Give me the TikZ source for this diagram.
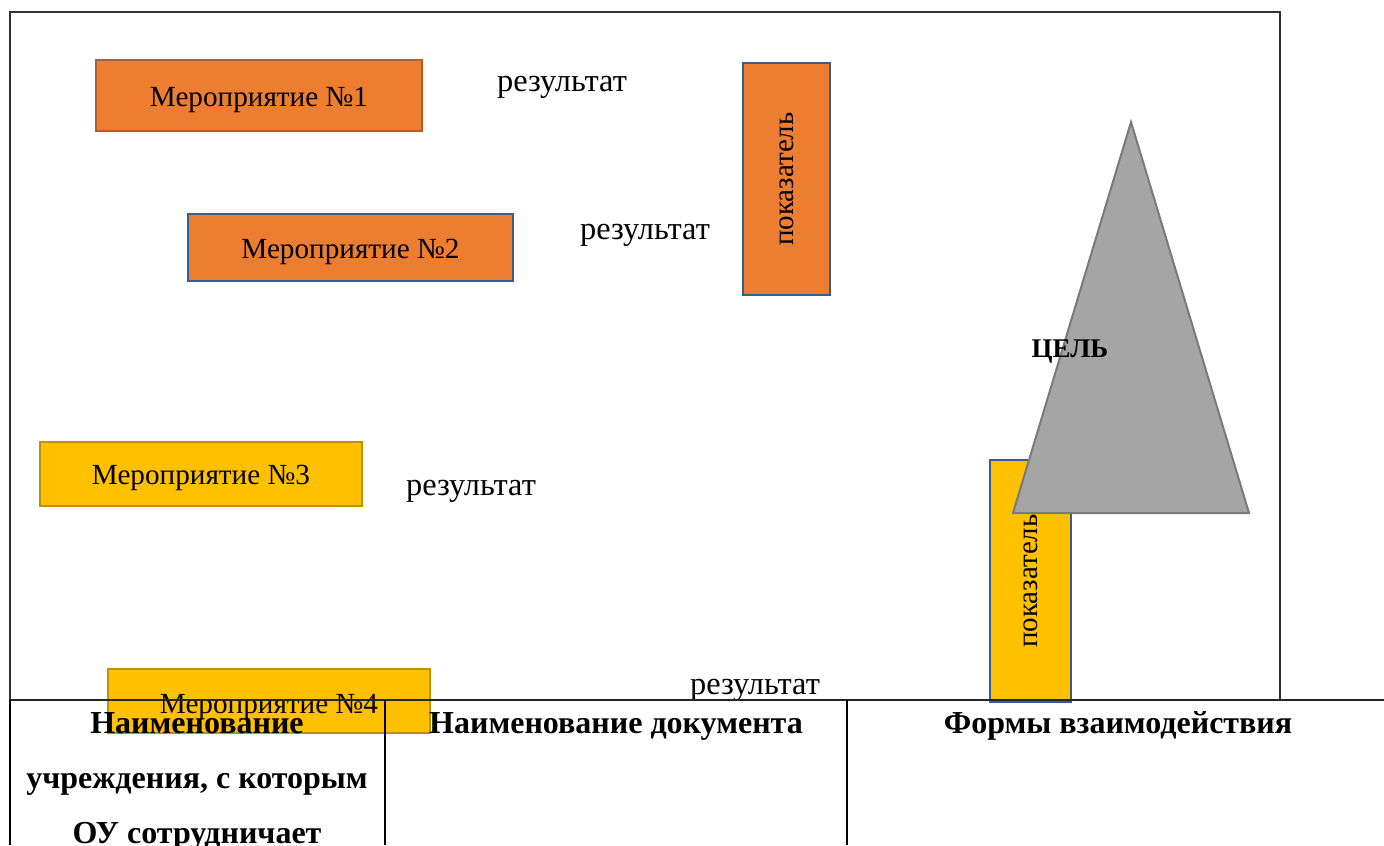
\documentclass[tikz,border=0pt]{standalone}
\usepackage{fontspec}
\setmainfont{Liberation Serif}
\usetikzlibrary{positioning}
\definecolor{evorange}{HTML}{ED7D31}
\definecolor{evorangeline}{HTML}{B15F27}
\definecolor{evyellow}{HTML}{FFC000}
\definecolor{evyellowline}{HTML}{BF9000}
\definecolor{evblue}{HTML}{3A5A94}
\definecolor{goalgray}{HTML}{A5A5A5}
\definecolor{goalline}{HTML}{7A7A7A}
\tikzset{
event/.style={draw, rectangle, line width=1pt, inner sep=0pt,
  text height=1.26em, text depth=0.2em,
  font=\fontsize{14.6}{16}\selectfont},
orangeevent/.style={event, fill=evorange, draw=evorangeline},
yellowevent/.style={event, fill=evyellow, draw=evyellowline},
indicator/.style={draw, rectangle, line width=1pt, draw=evblue},
result/.style={inner sep=0pt, font=\fontsize{16.2}{18}\selectfont},
header/.style={inner sep=0pt, align=center,
  font=\bfseries\fontsize{16}{27.5}\selectfont},
}

\begin{document}
\begin{tikzpicture}[x=0.5pt,y=-0.5pt]
\useasboundingbox (0,0) rectangle (1384,845);
% frame
\draw[line width=0.6pt, black!80] (10,12) rectangle (1280,700);

\node[orangeevent, minimum width=163pt, minimum height=35.5pt] (m1) at (259,95.5) {Мероприятие №1};
\node[result] (r1) at (562,87) {результат};
\node[orangeevent, draw=evblue, minimum width=162.5pt, minimum height=33.5pt] (m2) at (350.5,247.5) {Мероприятие №2};
\node[result] (r2) at (645,235) {результат};
\node[indicator, fill=evorange, minimum width=43.5pt, minimum height=116pt] (p1) at (786.5,179) {};
\node[rotate=90, font=\fontsize{14.5}{16}\selectfont] (p1text) at (p1.center) {показатель};

\node[yellowevent, minimum width=161pt, minimum height=32pt] (m3) at (201,474) {Мероприятие №3};
\node[result] (r3) at (471,491) {результат};
\node[indicator, fill=evyellow, minimum width=40.5pt, minimum height=121pt] (p2) at (1030.5,581) {};
\node[rotate=90, font=\fontsize{14.5}{16}\selectfont] (p2text) at (p2.center) {показатель};

% goal
\coordinate (apex) at (1131,122);
\coordinate (baseleft) at (1013,513);
\coordinate (baseright) at (1249,513);
\filldraw[fill=goalgray, draw=goalline, line width=1pt] (apex) -- (baseleft) -- (baseright) -- cycle;
\node[font=\bfseries\fontsize{13.5}{14}\selectfont] (goal) at (1070,352) {ЦЕЛЬ};

\node[yellowevent, minimum width=161pt, minimum height=32pt] (m4) at (269,701) {};
\node[font=\fontsize{14.6}{16}\selectfont] (m4text) at (269,707) {Мероприятие №4};
\node[result] (r4) at (755,690) {результат};

% table
\draw[line width=1pt, black!85] (10,700) -- (1384,700);
\draw[line width=0.6pt] (10,700) -- (10,845);
\draw[line width=0.6pt] (385,700) -- (385,845);
\draw[line width=0.6pt] (847,700) -- (847,845);
\node[header] (h1) at (197,781) {Наименование\\учреждения, с которым\\ОУ сотрудничает};
\node[header] (h2) at (616,726) {Наименование документа};
\node[header] (h3) at (1118,726) {Формы взаимодействия};
\end{tikzpicture}
\end{document}
